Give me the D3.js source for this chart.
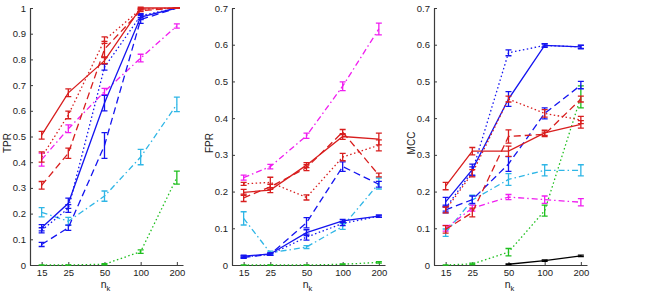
<!DOCTYPE html>
<html><head><meta charset="utf-8">
<script src="https://cdn.jsdelivr.net/npm/d3@7"></script>
<style>body{margin:0;background:#fff}svg{display:block}text{font-family:"Liberation Sans",Arial,sans-serif}</style>
</head><body>
<svg id="c" width="654" height="295"></svg>
<script>
const nk = [15, 25, 50, 100, 200];
const panelLabels = ["TPR", "FPR", "MCC"];
const yMax = [1, 0.7, 0.7];
const yTicks = [[0,0.1,0.2,0.3,0.4,0.5,0.6,0.7,0.8,0.9,1],[0,0.1,0.2,0.3,0.4,0.5,0.6,0.7],[0,0.1,0.2,0.3,0.4,0.5,0.6,0.7]];
const seriesNames = ["cyan", "magenta", "green", "black", "blueDashed", "blueDotted", "blueSolid", "redDashed", "redDotted", "redSolid"];

// TPR
const tprRedSolid = [0.505,0.67,0.795,1.0,1.0], tprRedSolidErr = [0.015,0.015,0.012,0.003,0.001];
const tprRedDotted = [0.42,0.584,0.875,0.995,1.0], tprRedDottedErr = [0.02,0.015,0.013,0.003,0.001];
const tprRedDashed = [0.31,0.435,0.84,0.99,1.0], tprRedDashedErr = [0.015,0.02,0.03,0.004,0.001];
const tprBlueSolid = [0.145,0.24,0.63,0.965,1.0], tprBlueSolidErr = [0.012,0.02,0.03,0.01,0.001];
const tprBlueDotted = [0.135,0.22,0.77,0.97,1.0], tprBlueDottedErr = [0.01,0.015,0.012,0.008,0.001];
const tprBlueDashed = [0.08,0.145,0.465,0.955,1.0], tprBlueDashedErr = [0.008,0.01,0.05,0.015,0.001];
const tprMagenta = [0.41,0.53,0.675,0.805,0.93], tprMagentaErr = [0.025,0.015,0.012,0.015,0.008];
const tprCyan = [0.205,0.17,0.268,0.42,0.625], tprCyanErr = [0.018,0.015,0.02,0.03,0.028];
const tprGreen = [0,0,0.003,0.052,0.34], tprGreenErr = [0,0,0.002,0.007,0.025];
const tprBlack = [null,null,null,null,null], tprBlackErr = [null,null,null,null,null];

// FPR
const fprRedSolid = [0.198,0.204,0.272,0.35,0.343], fprRedSolidErr = [0.008,0.007,0.007,0.008,0.016];
const fprRedDotted = [0.221,0.225,0.184,0.294,0.326], fprRedDottedErr = [0.004,0.014,0.007,0.01,0.015];
const fprRedDashed = [0.183,0.213,0.265,0.362,0.245], fprRedDashedErr = [0.01,0.007,0.008,0.007,0.005];
const fprBlueSolid = [0.024,0.03,0.088,0.12,0.133], fprBlueSolidErr = [0.003,0.003,0.008,0.004,0.003];
const fprBlueDotted = [0.022,0.029,0.076,0.113,0.133], fprBlueDottedErr = [0.003,0.003,0.008,0.006,0.003];
const fprBlueDashed = [0.021,0.029,0.115,0.268,0.22], fprBlueDashedErr = [0.003,0.003,0.014,0.013,0.008];
const fprMagenta = [0.238,0.268,0.352,0.487,0.643], fprMagentaErr = [0.007,0.006,0.007,0.012,0.016];
const fprCyan = [0.127,0.033,0.049,0.105,0.222], fprCyanErr = [0.018,0.005,0.004,0.008,0.015];
const fprGreen = [0,0,0,0.002,0.007], fprGreenErr = [0,0,0,0.001,0.002];
const fprBlack = [null,null,null,null,null], fprBlackErr = [null,null,null,null,null];

// MCC
const mccRedSolid = [0.215,0.31,0.31,0.36,0.383], mccRedSolidErr = [0.01,0.01,0.014,0.007,0.01];
const mccRedDotted = [0.15,0.25,0.452,0.413,0.395], mccRedDottedErr = [0.008,0.01,0.008,0.01,0.01];
const mccRedDashed = [0.097,0.143,0.35,0.356,0.452], mccRedDashedErr = [0.01,0.012,0.018,0.006,0.008];
const mccBlueSolid = [0.172,0.26,0.452,0.598,0.594], mccBlueSolidErr = [0.012,0.015,0.02,0.005,0.005];
const mccBlueDotted = [0.155,0.255,0.578,0.598,0.594], mccBlueDottedErr = [0.008,0.012,0.008,0.004,0.004];
const mccBlueDashed = [0.15,0.178,0.275,0.413,0.49], mccBlueDashedErr = [0.008,0.01,0.02,0.015,0.01];
const mccMagenta = [0.1,0.155,0.185,0.178,0.171], mccMagentaErr = [0.008,0.008,0.007,0.01,0.01];
const mccCyan = [0.088,0.177,0.233,0.258,0.258], mccCyanErr = [0.01,0.013,0.016,0.015,0.015];
const mccGreen = [0,0.003,0.035,0.148,0.458], mccGreenErr = [0,0.002,0.01,0.015,0.03];
const mccBlack = [null,null,0.002,0.012,0.025], mccBlackErr = [null,null,0.001,0.002,0.002];

const styles = {
  cyan:{color:"#2fb6e6",dash:"6,3,1.5,3"},
  magenta:{color:"#f01ef0",dash:"6,3,1.5,3"},
  green:{color:"#1fbf1f",dash:"1.5,2.5"},
  black:{color:"#000000",dash:null},
  blueDashed:{color:"#1414f0",dash:"7,4"},
  blueDotted:{color:"#1414f0",dash:"1.5,2.5"},
  blueSolid:{color:"#1414f0",dash:null},
  redDashed:{color:"#d81e1e",dash:"7,4"},
  redDotted:{color:"#d81e1e",dash:"1.5,2.5"},
  redSolid:{color:"#d81e1e",dash:null}
};

const panels = [
  {cyan:[tprCyan,tprCyanErr],magenta:[tprMagenta,tprMagentaErr],green:[tprGreen,tprGreenErr],black:[tprBlack,tprBlackErr],blueDashed:[tprBlueDashed,tprBlueDashedErr],blueDotted:[tprBlueDotted,tprBlueDottedErr],blueSolid:[tprBlueSolid,tprBlueSolidErr],redDashed:[tprRedDashed,tprRedDashedErr],redDotted:[tprRedDotted,tprRedDottedErr],redSolid:[tprRedSolid,tprRedSolidErr]},
  {cyan:[fprCyan,fprCyanErr],magenta:[fprMagenta,fprMagentaErr],green:[fprGreen,fprGreenErr],black:[fprBlack,fprBlackErr],blueDashed:[fprBlueDashed,fprBlueDashedErr],blueDotted:[fprBlueDotted,fprBlueDottedErr],blueSolid:[fprBlueSolid,fprBlueSolidErr],redDashed:[fprRedDashed,fprRedDashedErr],redDotted:[fprRedDotted,fprRedDottedErr],redSolid:[fprRedSolid,fprRedSolidErr]},
  {cyan:[mccCyan,mccCyanErr],magenta:[mccMagenta,mccMagentaErr],green:[mccGreen,mccGreenErr],black:[mccBlack,mccBlackErr],blueDashed:[mccBlueDashed,mccBlueDashedErr],blueDotted:[mccBlueDotted,mccBlueDottedErr],blueSolid:[mccBlueSolid,mccBlueSolidErr],redDashed:[mccRedDashed,mccRedDashedErr],redDotted:[mccRedDotted,mccRedDottedErr],redSolid:[mccRedSolid,mccRedSolidErr]}
];

const svg = d3.select("#c");
const plotTop = 8, plotBottom = 265, pw = 153;
const lefts = [30, 232, 434];
const axisColor = "#3c3c3c";

panels.forEach((p, i) => {
  const x0 = lefts[i];
  const x = d3.scaleLog().domain([12, 225]).range([x0, x0 + pw]);
  const y = d3.scaleLinear().domain([0, yMax[i]]).range([plotBottom, plotTop]);
  const g = svg.append("g");

  const ya = g.append("g").attr("transform", `translate(${x0},0)`)
    .call(d3.axisLeft(y).tickValues(yTicks[i]).tickSizeInner(-3).tickSizeOuter(0).tickPadding(4).tickFormat(d3.format("~g")));
  ya.select(".domain").attr("stroke", axisColor).attr("stroke-width", 1.2);
  ya.selectAll(".tick line").attr("stroke", axisColor);
  ya.selectAll(".tick text").attr("font-size", 9.5).attr("fill", "#222");

  const xa = g.append("g").attr("transform", `translate(0,${plotBottom})`)
    .call(d3.axisBottom(x).tickValues(nk).tickSizeInner(-3).tickSizeOuter(0).tickPadding(4).tickFormat(d3.format("d")));
  xa.select(".domain").attr("stroke", axisColor).attr("stroke-width", 1.2);
  xa.selectAll(".tick line").attr("stroke", axisColor);
  xa.selectAll(".tick text").attr("font-size", 9.5).attr("fill", "#222");

  g.append("text").attr("transform", `translate(${x0 - 19},${143}) rotate(-90)`)
    .attr("text-anchor", "middle").attr("font-size", 10).attr("fill", "#222").text(panelLabels[i]);
  const xl = g.append("text").attr("x", x0 + pw / 2 - 1).attr("y", 287.5).attr("text-anchor", "middle").attr("font-size", 10.5).attr("fill", "#222");
  xl.append("tspan").text("n");
  xl.append("tspan").attr("font-size", 7.5).attr("dy", 3.5).text("k");

  const line = d3.line().defined(d => d.v != null).x(d => x(d.n)).y(d => y(d.v));
  seriesNames.forEach(name => {
    const [vals, errs] = p[name];
    const st = styles[name];
    const pts = nk.map((n, j) => ({n, v: vals[j], e: errs[j]}));
    g.append("path").datum(pts).attr("d", line).attr("fill", "none")
      .attr("stroke", st.color).attr("stroke-width", 1.3)
      .attr("stroke-dasharray", st.dash);
    const eb = g.append("g").attr("stroke", st.color).attr("stroke-width", 1.3).attr("fill", "none");
    pts.filter(d => d.v != null).forEach(d => {
      const cx = x(d.n), y1 = y(d.v - d.e), y2 = y(d.v + d.e);
      eb.append("path").attr("d", `M${cx},${y1}V${y2}M${cx - 3},${y1}H${cx + 3}M${cx - 3},${y2}H${cx + 3}`);
    });
  });
});
</script>
</body></html>
